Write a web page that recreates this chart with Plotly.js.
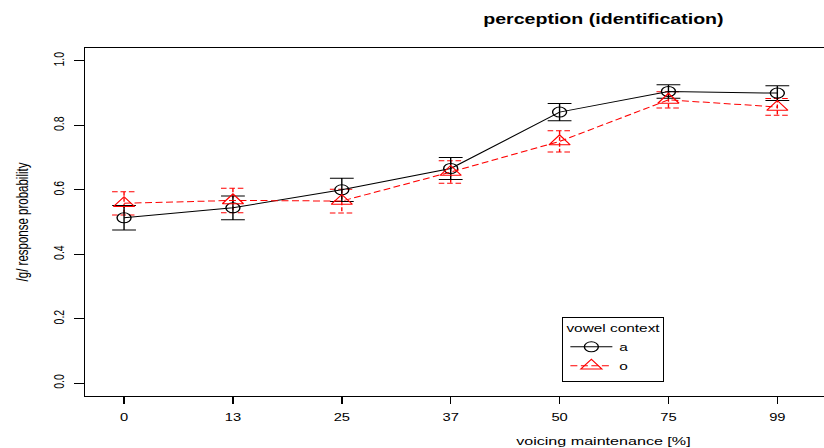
<!DOCTYPE html>
<html>
<head>
<meta charset="utf-8">
<script src="https://cdn.plot.ly/plotly-3.0.1.min.js"></script>
<style>
  html, body { margin: 0; padding: 0; background: #fff; overflow: hidden; }
  #wrap { width: 824px; height: 448px; overflow: hidden; position: relative; }
  #plot { width: 830px; height: 448px; transform: scaleX(1.4); transform-origin: 0 0; }
</style>
</head>
<body>
<div id="wrap"><div id="plot"></div></div>
<script>
// ---- data ----
const voicing = ['0', '13', '25', '37', '50', '75', '99'];      // voicing maintenance [%]
const probA   = [0.513, 0.544, 0.600, 0.666, 0.841, 0.905, 0.900]; // vowel context a
const errA    = [0.038, 0.037, 0.036, 0.034, 0.027, 0.021, 0.023];
const probO   = [0.558, 0.567, 0.565, 0.655, 0.750, 0.879, 0.857]; // vowel context o
const errO    = [0.036, 0.038, 0.037, 0.035, 0.033, 0.025, 0.026];
const yTicks  = [0, 0.2, 0.4, 0.6, 0.8, 1.0];

const xPos = voicing.map((_, i) => i + 1);
const FONT = 'Liberation Sans, Arial, Helvetica, sans-serif';
const CAP = 0.11; // half cap width in x units

// dashed red error bars built from the data
const ebx = [], eby = [];
xPos.forEach((x, i) => {
  const hi = probO[i] + errO[i], lo = probO[i] - errO[i];
  ebx.push(x - CAP, x + CAP, null, x, x, null, x - CAP, x + CAP, null);
  eby.push(hi, hi, null, hi, lo, null, lo, lo, null);
});

const traces = [
  {
    x: ebx, y: eby, mode: 'lines', showlegend: false, hoverinfo: 'skip',
    line: { color: 'red', width: 1, dash: '4px,2px' }
  },
  {
    x: xPos, y: probA, name: 'a', mode: 'lines+markers',
    line: { color: 'black', width: 1 },
    marker: { symbol: 'circle-open', size: 10, color: 'black', line: { width: 1, color: 'black' } },
    error_y: { type: 'data', array: errA, visible: true, color: 'black', thickness: 1, width: 8.5 }
  },
  {
    x: xPos, y: probO, name: 'o', mode: 'lines+markers',
    line: { color: 'red', width: 1, dash: '5px,2.5px' },
    marker: { symbol: 'triangle-up-open', size: 13, color: 'red', line: { width: 1, color: 'red' } }
  }
];

const layout = {
  width: 830, height: 448,
  margin: { l: 61, r: 29, t: 48, b: 52 },
  paper_bgcolor: '#fff', plot_bgcolor: '#fff',
  font: { family: FONT, color: '#000', size: 10.5 },
  title: {
    text: 'perception (identification)',
    font: { family: FONT, size: 14, weight: 'bold', color: '#000' },
    xref: 'paper', x: 0.5, xanchor: 'center',
    yref: 'container', y: 1 - 19 / 448, yanchor: 'middle'
  },
  xaxis: {
    range: [0.645, 10.16], tickmode: 'array', tickvals: xPos, ticktext: voicing,
    showline: true, mirror: true, linecolor: '#000', linewidth: 1,
    ticks: 'outside', ticklen: 7, tickwidth: 1, tickcolor: '#000',
    ticklabelstandoff: 4,
    showgrid: false, zeroline: false,
    tickfont: { family: FONT, size: 10.5, color: '#000' },
    title: { text: 'voicing maintenance [%]', font: { family: FONT, size: 11.5, color: '#000' }, standoff: 15 }
  },
  yaxis: {
    range: [-0.04, 1.04], tickmode: 'array', tickvals: yTicks, tickformat: '.1f',
    tickangle: -90,
    showline: true, mirror: true, linecolor: '#000', linewidth: 1,
    ticks: 'outside', ticklen: 7, tickwidth: 1, tickcolor: '#000',
    ticklabelstandoff: 3,
    showgrid: false, zeroline: false,
    tickfont: { family: FONT, size: 10.5, color: '#000' },
    title: { text: '/g/ response probability', font: { family: FONT, size: 11.5, color: '#000' }, standoff: 12 }
  },
  showlegend: true,
  legend: {
    x: 0.46, xanchor: 'left', y: 0.227, yanchor: 'top',
    bgcolor: '#fff', bordercolor: '#000', borderwidth: 1,
    font: { family: FONT, size: 11, color: '#000' },
    title: { text: 'vowel context', side: 'top center', font: { family: FONT, size: 11, color: '#000' } },
    itemwidth: 30, tracegroupgap: 0
  }
};

Plotly.newPlot('plot', traces, layout, { staticPlot: true, displayModeBar: false, responsive: false });
</script>
</body>
</html>
